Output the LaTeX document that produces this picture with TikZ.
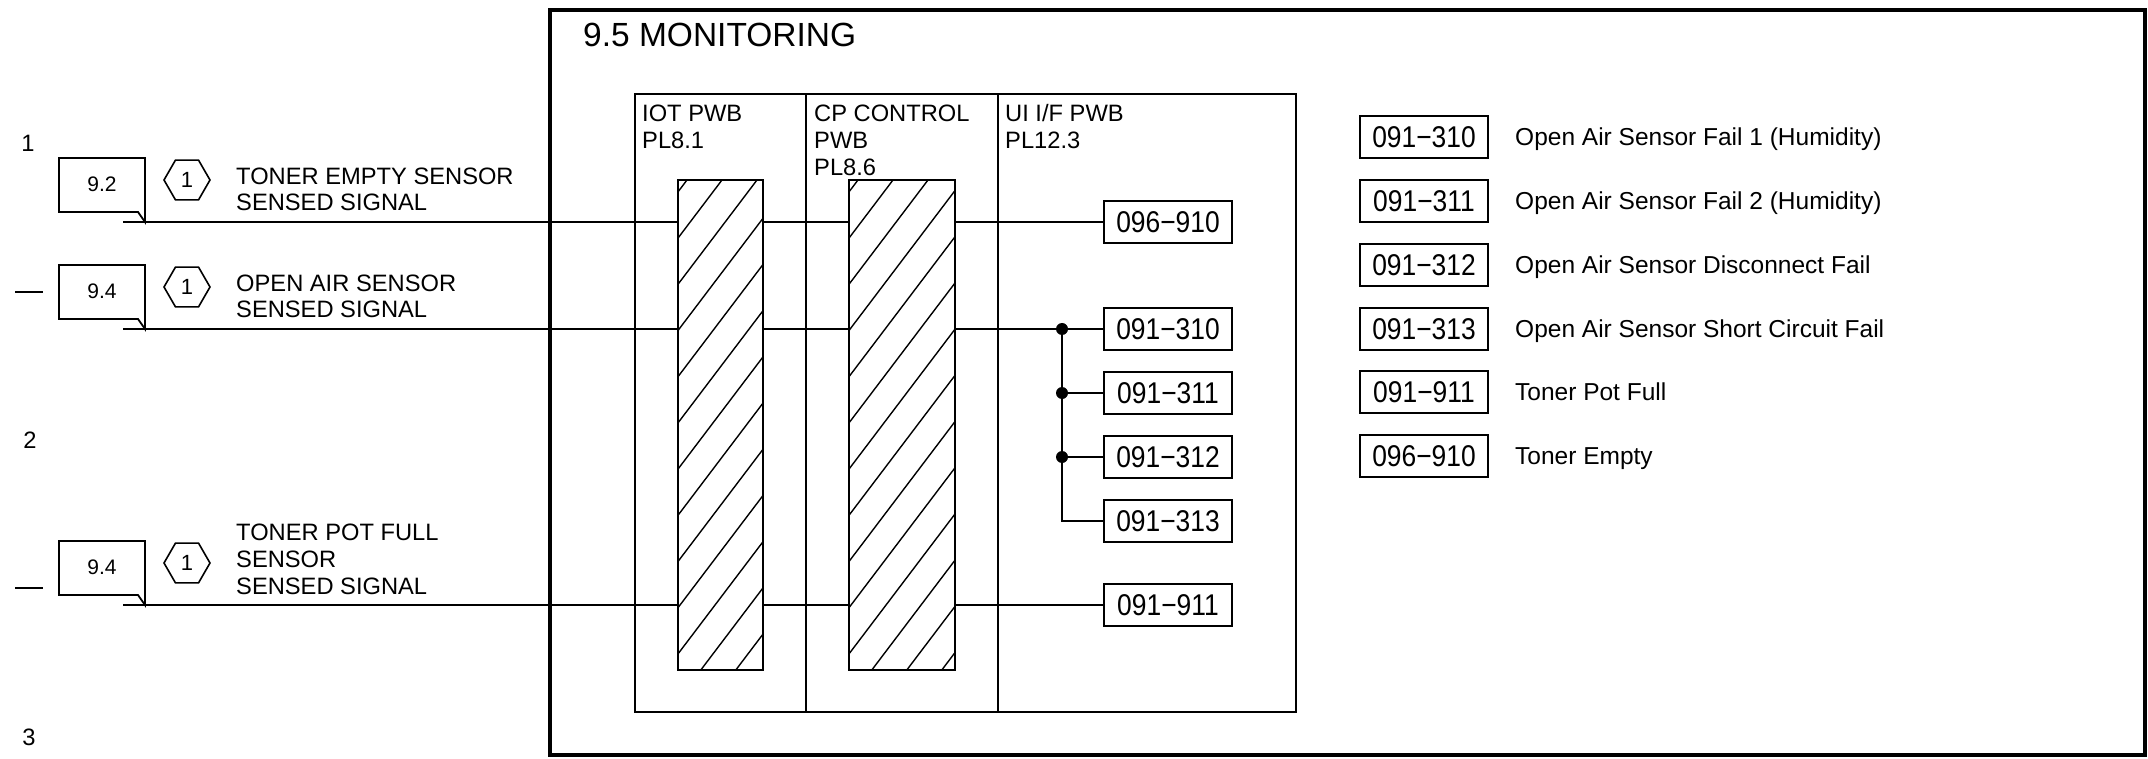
\documentclass[tikz,border=0pt]{standalone}
\usepackage{fontspec}
\setmainfont{Liberation Sans}
\newfontfamily\condfont[FakeStretch=0.88]{Liberation Sans}
\usetikzlibrary{shapes.geometric}
\begin{document}
\begin{tikzpicture}[x=1pt,y=-1pt,
  wire/.style={line width=1.8pt},
  frame/.style={line width=4pt},
  lbl/.style={anchor=base west,inner sep=0pt,font=\fontsize{23.7}{26.7}\selectfont},
  leg/.style={anchor=base west,inner sep=0pt,font=\fontsize{24.5}{27}\selectfont},
  codebox/.style={draw,line width=1.8pt,minimum width=128pt,minimum height=42pt,inner sep=0pt,font=\condfont\fontsize{30}{32}\selectfont},
  hexa/.style={draw,line width=1.6pt,regular polygon,regular polygon sides=6,minimum size=46pt,inner sep=0pt,font=\fontsize{22}{24}\selectfont},
  refnum/.style={inner sep=0pt,font=\fontsize{21}{23}\selectfont},
  hatchbox/.style={minimum width=#1,minimum height=490pt,inner sep=0pt},
  hatch/.style={line width=1.4pt},
  dot/.style={circle,fill=black,minimum size=12pt,inner sep=0pt}
]
\useasboundingbox (0,0) rectangle (2148,759);

% page row numbers and dashes
\node[inner sep=0pt,font=\fontsize{23.7}{26}\selectfont] (n1) at (28,143) {1};
\node[inner sep=0pt,font=\fontsize{23.7}{26}\selectfont] (n2) at (30,440) {2};
\node[inner sep=0pt,font=\fontsize{23.7}{26}\selectfont] (n3) at (29,737) {3};
\draw[line width=2.5pt] (15,292) -- (43,292);
\draw[line width=2.5pt] (15,588) -- (43,588);

% main frame
\draw[frame] (550,10) rectangle (2145,755);
\node[anchor=base west,inner sep=0pt,font=\fontsize{33.5}{36}\selectfont] (title) at (583,47) {9.5 MONITORING};

% table
\draw[wire] (635,94) rectangle (1296,712);
\draw[wire] (806,94) -- (806,712);
\draw[wire] (998,94) -- (998,712);
\node[lbl] (hA1) at (642,122) {IOT PWB};
\node[lbl] (hA2) at (642,148.7) {PL8.1};
\node[lbl] (hB1) at (814,122) {CP CONTROL};
\node[lbl] (hB2) at (814,148.7) {PWB};
\node[lbl] (hB3) at (814,175.4) {PL8.6};
\node[lbl] (hC1) at (1005,122) {UI I/F PWB};
\node[lbl] (hC2) at (1005,148.7) {PL12.3};

% hatched connector blocks
\node[hatchbox=85pt] (h1) at (720.5,425) {};
\node[hatchbox=106pt] (h2) at (902,425) {};
\begin{scope}
  \clip (678,180) rectangle (763,670);
  \foreach \k in {0,...,16} \draw[hatch] (687+35*\k,180) -- ++(-371.2,490);
\end{scope}
\begin{scope}
  \clip (849,180) rectangle (955,670);
  \foreach \k in {0,...,17} \draw[hatch] (858+35*\k,180) -- ++(-371.2,490);
\end{scope}
\draw[wire] (h1.north west) rectangle (h1.south east);
\draw[wire] (h2.north west) rectangle (h2.south east);

% code boxes in UI column
\node[codebox] (c910) at (1168,222) {096−910};
\node[codebox] (c310) at (1168,329) {091−310};
\node[codebox] (c311) at (1168,393) {091−311};
\node[codebox] (c312) at (1168,457) {091−312};
\node[codebox] (c313) at (1168,521) {091−313};
\node[codebox] (c911) at (1168,605) {091−911};

% callouts (left)
\foreach \L/\t/\nm in {222/9.2/a, 329/9.4/b, 605/9.4/c} {
  \draw[wire] (59,\L-64) -- (145,\L-64) -- (145,\L) -- (138,\L-10) -- (59,\L-10) -- cycle;
  \node[refnum] (ref\nm) at (102,\L-38) {\t};
  \node[hexa] (hex\nm) at (187,\L-42) {1};
  \coordinate (s\nm) at (123,\L);
}
\node[lbl] (ta1) at (236,184.3) {TONER EMPTY SENSOR};
\node[lbl] (ta2) at (236,211) {SENSED SIGNAL};
\node[lbl] (tb1) at (236,291.3) {OPEN AIR SENSOR};
\node[lbl] (tb2) at (236,318) {SENSED SIGNAL};
\node[lbl] (tc1) at (236,540.6) {TONER POT FULL};
\node[lbl] (tc2) at (236,567.3) {SENSOR};
\node[lbl] (tc3) at (236,594) {SENSED SIGNAL};

% signal wires
\draw[wire] (sa) -- (sa -| h1.west);
\draw[wire] (sa -| h1.east) -- (sa -| h2.west);
\draw[wire] (sa -| h2.east) -- (c910.west);
\draw[wire] (sb) -- (sb -| h1.west);
\draw[wire] (sb -| h1.east) -- (sb -| h2.west);
\draw[wire] (sb -| h2.east) -- (c310.west);
\draw[wire] (sc) -- (sc -| h1.west);
\draw[wire] (sc -| h1.east) -- (sc -| h2.west);
\draw[wire] (sc -| h2.east) -- (c911.west);

% branch to 091-31x
\coordinate (j0) at (1062,329);
\node[dot] (d1) at (j0) {};
\node[dot] (d2) at (j0 |- c311.west) {};
\node[dot] (d3) at (j0 |- c312.west) {};
\draw[wire] (j0) -- (j0 |- c313.west) -- (c313.west);
\draw[wire] (d2.center) -- (c311.west);
\draw[wire] (d3.center) -- (c312.west);

% legend
\foreach \y/\c/\d/\nm in {137/091−310/Open Air Sensor Fail 1 (Humidity)/la,
                          201/091−311/Open Air Sensor Fail 2 (Humidity)/lb,
                          265/091−312/Open Air Sensor Disconnect Fail/lc,
                          329/091−313/Open Air Sensor Short Circuit Fail/ld,
                          392/091−911/Toner Pot Full/le,
                          456/096−910/Toner Empty/lf} {
  \node[codebox] (\nm box) at (1424,\y) {\c};
  \node[leg] (\nm txt) at (1515,\y+8.8) {\d};
}
\end{tikzpicture}
\end{document}
